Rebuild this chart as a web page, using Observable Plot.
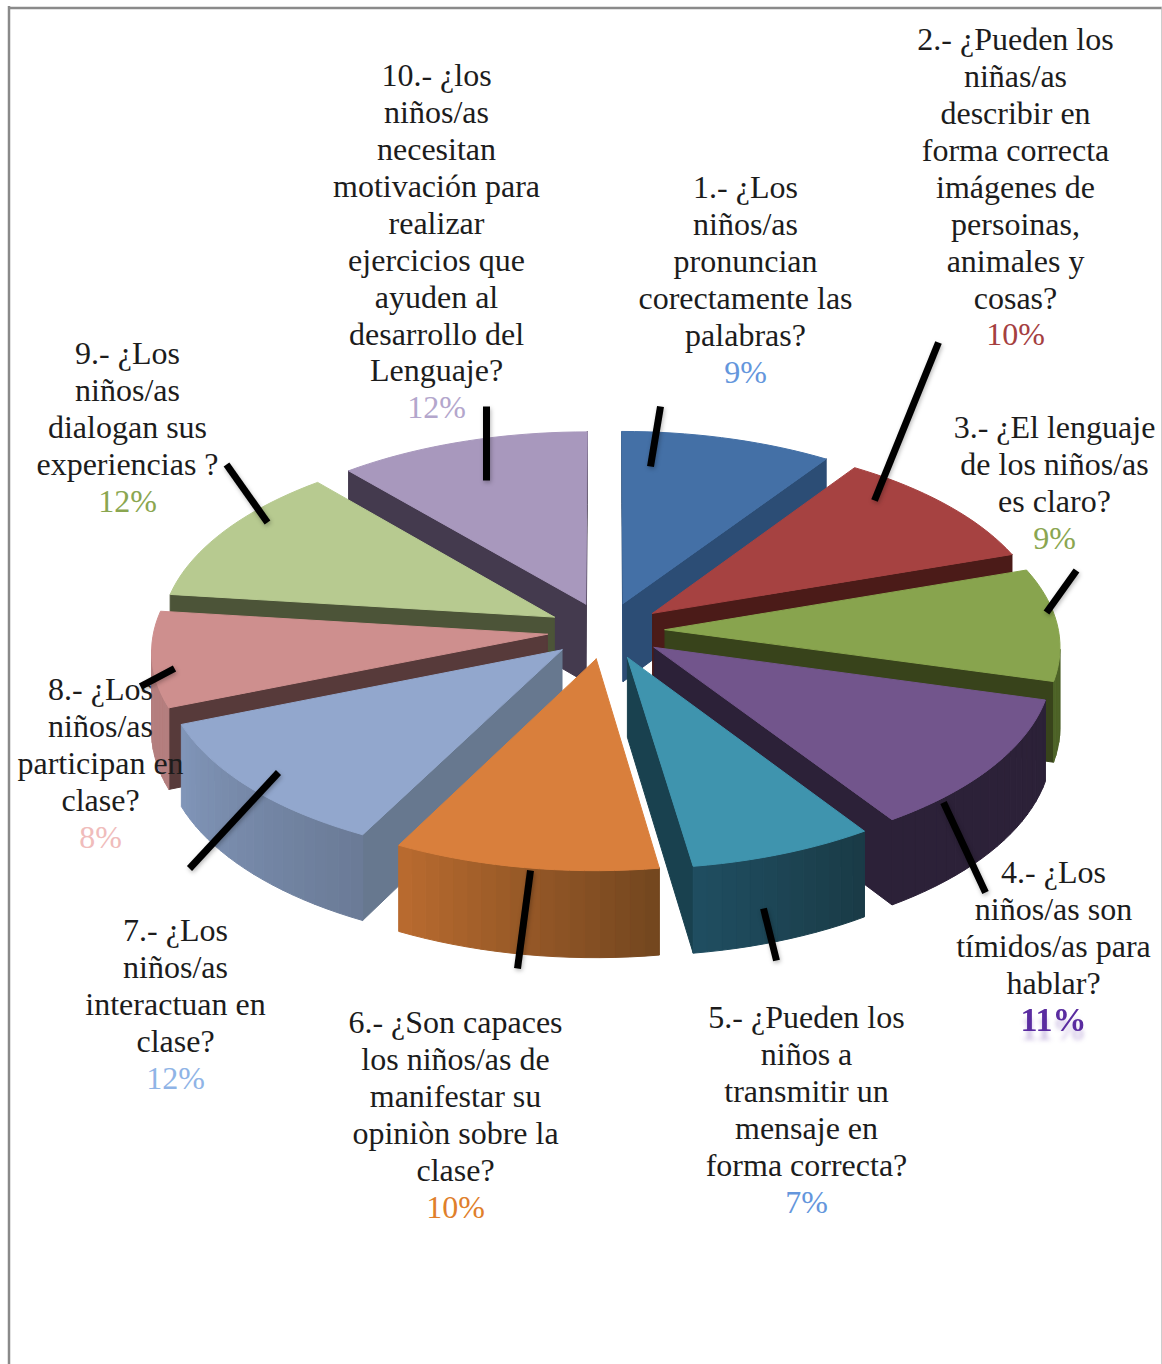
<!DOCTYPE html>
<html lang="es">
<head>
<meta charset="utf-8">
<title>Gráfico circular</title>
<script src="https://cdn.jsdelivr.net/npm/d3@7"></script>
<script src="https://cdn.jsdelivr.net/npm/@observablehq/plot@0.6"></script>
<style>
html,body{margin:0;padding:0;background:#fff;overflow:hidden}
svg{display:block}
.reflect{filter:drop-shadow(0 9px 2px rgba(90,44,160,.28))}
.leader{filter:drop-shadow(1px 2px 2px rgba(0,0,0,.28))}
</style>
</head>
<body>
<div id="chart"></div>
<script>
// ---- data ----
const percentLabels = [9, 10, 9, 11, 7, 10, 12, 8, 12, 12];
// Sweep of each wedge in degrees as actually drawn
const sweepDegrees = [34, 37.2, 34.3, 41, 25, 35.8, 40.7, 29, 42.5, 40.5];
const questions = [
  ["1.- ¿Los", "niños/as", "pronuncian", "corectamente las", "palabras?"],
  ["2.- ¿Pueden los", "niñas/as", "describir en", "forma correcta", "imágenes de", "persoinas,", "animales y", "cosas?"],
  ["3.- ¿El lenguaje", "de los niños/as", "es claro?"],
  ["4.- ¿Los", "niños/as son", "tímidos/as para", "hablar?"],
  ["5.- ¿Pueden los", "niños a", "transmitir un", "mensaje en", "forma correcta?"],
  ["6.- ¿Son capaces", "los niños/as de", "manifestar su", "opiniòn sobre la", "clase?"],
  ["7.- ¿Los", "niños/as", "interactuan en", "clase?"],
  ["8.- ¿Los", "niños/as", "participan en", "clase?"],
  ["9.- ¿Los", "niños/as", "dialogan sus", "experiencias ?"],
  ["10.- ¿los", "niños/as", "necesitan", "motivación para", "realizar", "ejercicios que", "ayuden al", "desarrollo del", "Lenguaje?"]
];

// ---- styling ----
const topColors   = ["#4470a6","#a64241","#88a44e","#72558c","#3f94ae","#d97f3c","#92a7cd","#ce8f8e","#b7ca90","#a898bd"];
const edgeColors  = ["#2c4d75","#4b1b18","#38431b","#2c2138","#19414f","#8a5020","#67788f","#573a3a","#4c5438","#443a4e"];
const wallFrom    = ["#2c4d75","#4b1b18","#4e6428","#2c2138","#1f4d60","#b86a2f","#8095b8","#b47e7e","#4c5438","#443a4e"];
const wallTo      = ["#2c4d75","#4b1b18","#3a481c","#2c2138","#1a3b47","#74471f","#6b7b97","#b47e7e","#4c5438","#443a4e"];
const percentColors = ["#6496dc","#a5403f","#8aa650","#5a2ca0","#6496dc","#e07f2b","#8fb4e6","#f0bcbb","#8aa650","#b3a6cc"];

// ---- layout of the annotations ----
const labelX = [745, 1015, 1054, 1053, 806, 455, 175, 100, 127, 436];
const labelFirstY = [187.5, 39.5, 427.5, 872.5, 1017.5, 1022.5, 930.5, 689.5, 353.5, 75.5];
const lineStep = 36.9;
const leaderEnds = [
  [[660,406],[650,466]], [[938,342],[874,500]], [[1076,570],[1046,612]], [[943,802],[985,892]],
  [[763,908],[776,960]], [[530,870],[517,968]], [[278,772],[189,868]], [[174,668],[140,686]],
  [[226,464],[267,522]], [[486,406],[486,480]]
];

// ---- 3D pie geometry: ground plane + perspective ----
const center = {x: 605.5, y: 630}, rx = 393.5, ry = 190, depth = 12.5, thickness = 79, explode = 0.15;
const rad = d => d * Math.PI / 180;
const project = ([u, v], z) => {
  const s = depth / (depth + v);
  return {x: center.x + rx * u * s, y: center.y - ry * v * s + thickness * z * s};
};
const signedArea = pts => d3.sum(pts, (p, i) => {
  const q = pts[(i + 1) % pts.length];
  return p.x * q.y - q.x * p.y;
});

let cumulative = 0;
const wedges = sweepDegrees.map((sweep, i) => {
  const start = cumulative, end = (cumulative += sweep), mid = (start + end) / 2;
  return {i, start, end, mid};
});

const polygons = [];
let polygonId = 0;
function addPolygon(points, color) {
  const id = polygonId++;
  for (const p of [...points, points[0]]) polygons.push({id, color, x: p.x, y: p.y});
}
function addWall(a, b, color) {
  const quad = [project(a, 0), project(b, 0), project(b, 1), project(a, 1)];
  if (signedArea(quad) < 0) addPolygon(quad, color);
}
for (const w of d3.sort(wedges, w => -Math.cos(rad(w.mid)))) {
  const apex = [explode * Math.sin(rad(w.mid)), explode * Math.cos(rad(w.mid))];
  const steps = Math.ceil((w.end - w.start) / 2);
  const rim = d3.range(steps + 1).map(k => {
    const a = rad(w.start + (w.end - w.start) * k / steps);
    return [apex[0] + Math.sin(a), apex[1] + Math.cos(a)];
  });
  addWall(apex, rim[0], edgeColors[w.i]);
  addWall(rim[steps], apex, edgeColors[w.i]);
  const shade = d3.interpolateRgb(wallTo[w.i], wallFrom[w.i]);
  for (let k = 0; k < steps; k++) addWall(rim[k], rim[k + 1], d3.color(shade(k / (steps - 1))).formatHex());
  addPolygon([project(apex, 0), ...rim.map(p => project(p, 0))], topColors[w.i]);
}

const textRows = questions.flatMap((lines, i) =>
  lines.map((text, k) => ({text, x: labelX[i], y: labelFirstY[i] + k * lineStep}))
);
const percentRows = percentLabels.map((p, i) => ({
  text: p + "%", x: labelX[i], y: labelFirstY[i] + questions[i].length * lineStep,
  color: percentColors[i], bold: i === 3
}));
const leaderRows = leaderEnds.flatMap((pair, i) => pair.map(([x, y]) => ({i, x, y})));

const serif = "'Liberation Serif', 'Times New Roman', serif";
const chart = Plot.plot({
  width: 1162, height: 1364, margin: 0,
  style: {background: "#fff", overflow: "visible"},
  x: {domain: [0, 1162], range: [0, 1162], axis: null},
  y: {domain: [0, 1364], range: [0, 1364], axis: null},
  marks: [
    Plot.ruleY([7.5], {x1: 8, x2: 1162, stroke: "#8a8a8a", strokeWidth: 2.5}),
    Plot.ruleX([8.5], {y1: 6, y2: 1364, stroke: "#8a8a8a", strokeWidth: 2.5}),
    Plot.ruleX([1161.5], {y1: 7, y2: 1364, stroke: "#bdbdbd", strokeWidth: 1.5}),
    Plot.line(polygons, {x: "x", y: "y", z: "id", fill: "color", stroke: "color", strokeWidth: 1}),
    Plot.text(textRows, {x: "x", y: "y", text: "text", fontFamily: serif, fontSize: 32, fill: "#1c1c1c"}),
    Plot.text(percentRows.filter(d => !d.bold), {x: "x", y: "y", text: "text", fontFamily: serif, fontSize: 32, fill: "color"}),
    Plot.text(percentRows.filter(d => d.bold), {x: "x", y: "y", text: "text", fontFamily: serif, fontSize: 34, fontWeight: 700, fill: "color", className: "reflect"}),
    Plot.line(leaderRows, {x: "x", y: "y", z: "i", stroke: "#000", strokeWidth: 7, strokeLinecap: "butt", className: "leader"})
  ]
});
document.getElementById("chart").appendChild(chart);
</script>
</body>
</html>
